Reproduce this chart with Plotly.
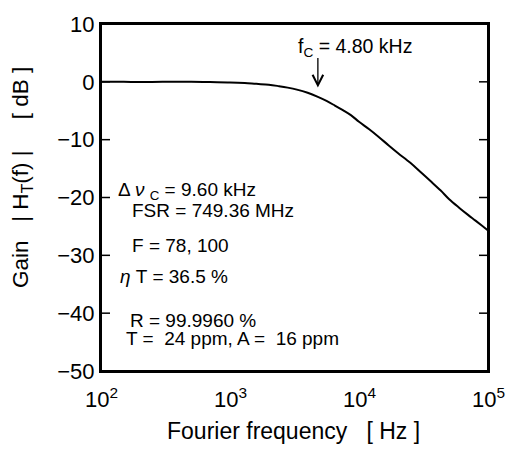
import plotly.graph_objects as go
import math

freq_hz = [100, 150, 200, 300, 500, 700, 1000, 1300, 1600, 2000, 2400, 2800,
           3300, 4000, 4800, 5600, 6500, 7500, 8700, 10000, 12000, 14000,
           17000, 20000, 25000, 30000, 36000, 43000, 50000, 60000, 70000,
           80000, 90000, 100000]
gain_db = [0.0, 0.0, -0.05, 0.0, 0.0, -0.05, -0.1, -0.2, -0.35, -0.5, -0.75, -1.0,
           -1.35, -1.9, -2.6, -3.3, -4.1, -4.9, -5.8, -6.9, -8.2, -9.4,
           -11.0, -12.3, -14.0, -15.6, -17.2, -18.8, -20.3, -21.8, -23.0,
           -24.0, -24.9, -25.7]

x_tickvals = [100, 1000, 10000, 100000]
x_ticktext = ["10<sup>2</sup>", "10<sup>3</sup>", "10<sup>4</sup>", "10<sup>5</sup>"]
x_minorvals = [200, 300, 400, 500, 600, 700, 800, 900,
               2000, 3000, 4000, 5000, 6000, 7000, 8000, 9000,
               20000, 30000, 40000, 50000, 60000, 70000, 80000, 90000]
y_tickvals = [10, 0, -10, -20, -30, -40, -50]

fc_hz = 4800
fc_label = "f<sub>C</sub> = 4.80 kHz"
param_lines = [
    "Δ <i>ν</i> <sub>C</sub> = 9.60 kHz",
    "FSR = 749.36 MHz",
    "F = 78, 100",
    "<i>η</i> T = 36.5 %",
    "R = 99.9960 %",
    "T =  24 ppm, A =  16 ppm",
]
param_pos = [(116, 186), (130, 206), (130, 242), (118, 274), (128, 319), (124, 338)]

W, H = 513, 449
L, R, T, B = 101, 25, 15, 78
PW, PH = W - L - R, H - T - B
MAJ, MIN = 9, 5  # tick lengths in px

FONT = "Liberation Sans"

fig = go.Figure()
fig.add_trace(go.Scatter(x=freq_hz, y=gain_db, mode="lines", line_shape="spline",
                         line=dict(color="black", width=2)))

fig.update_xaxes(type="log", range=[2, 5], tickvals=x_tickvals, showticklabels=False,
                 showline=True, linecolor="black", linewidth=2, mirror=True,
                 ticks="", showgrid=False, zeroline=False)
fig.update_yaxes(range=[-50, 10], tickvals=y_tickvals,
                 showline=True, linecolor="black", linewidth=2, mirror=True,
                 ticks="", showgrid=False, zeroline=False,
                 tickfont=dict(size=22, color="black", family=FONT))

# tick marks drawn inward on all four sides, positioned by the tick value arrays
shapes = []
def xtick(v, length, width):
    lx = math.log10(v)
    for y0, y1 in [(0, length / PH), (1, 1 - length / PH)]:
        shapes.append(dict(type="line", xref="x", yref="paper", x0=lx, x1=lx, y0=y0, y1=y1,
                           line=dict(color="black", width=width)))
for v in x_tickvals:
    xtick(v, MAJ, 1.5)
for v in x_minorvals:
    xtick(v, MIN, 1)
for v in y_tickvals:
    for x0, x1 in [(0, MAJ / PW), (1, 1 - MAJ / PW)]:
        shapes.append(dict(type="line", xref="paper", yref="y", x0=x0, x1=x1, y0=v, y1=v,
                           line=dict(color="black", width=1.5)))
shapes.append(dict(type="rect", xref="paper", yref="paper", x0=0, x1=1, y0=0, y1=1,
                   line=dict(color="black", width=2)))

def px2paper(px, py):
    return (px - L) / PW, (H - B - py) / PH

anns = []
# x tick labels
_, ylab = px2paper(0, 399)
for v, txt in zip(x_tickvals, x_ticktext):
    anns.append(dict(text=txt, x=math.log10(v), y=ylab, xref="x", yref="paper",
                     xanchor="center", yanchor="middle", showarrow=False,
                     font=dict(size=22, color="black", family=FONT)))

for txt, (px, py) in zip(param_lines, param_pos):
    xp, yp = px2paper(px, py)
    anns.append(dict(text=txt, x=xp, y=yp, xref="paper", yref="paper", xanchor="left",
                     yanchor="middle", showarrow=False,
                     font=dict(size=19, color="black", family=FONT)))

# fc label and arrow
xp, yp = px2paper(296, 39)
anns.append(dict(text=fc_label, x=xp, y=yp, xref="paper", yref="paper", xanchor="left",
                 yanchor="middle", showarrow=False, font=dict(size=19.5, color="black", family=FONT)))
anns.append(dict(text="", x=math.log10(fc_hz), y=-1.0, xref="x", yref="y", showarrow=True,
                 ax=0, ay=-31, arrowhead=5, arrowsize=1.6, arrowwidth=1.3, arrowcolor="black"))

# axis titles
xp, yp = px2paper(293, 433)
anns.append(dict(text="Fourier frequency   [ Hz ]", x=xp, y=yp, xref="paper", yref="paper",
                 xanchor="center", yanchor="middle", showarrow=False,
                 font=dict(size=23, color="black", family=FONT)))
xp, yp = px2paper(22, 173)
anns.append(dict(text="Gain   | H<sub>T</sub>(f) |     [ dB ]", x=xp, y=yp, xref="paper",
                 yref="paper", xanchor="center", yanchor="middle", textangle=-90,
                 showarrow=False, font=dict(size=22.5, color="black", family=FONT)))

fig.update_layout(width=W, height=H, margin=dict(l=L, r=R, t=T, b=B),
                  plot_bgcolor="white", showlegend=False, annotations=anns, shapes=shapes)

fig.write_html("out.html")
